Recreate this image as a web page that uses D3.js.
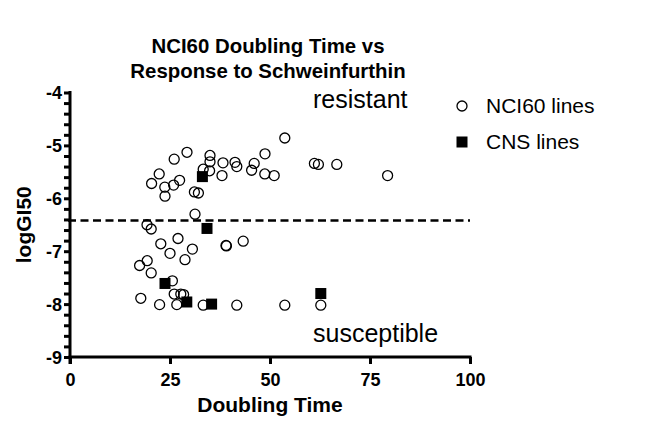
<!DOCTYPE html>
<html>
<head>
<meta charset="utf-8">
<script src="https://cdn.jsdelivr.net/npm/d3@7"></script>
<style>
  body { margin: 0; background: #fff; }
  text { font-family: Arial, "Liberation Sans", sans-serif; }
</style>
</head>
<body>
<div id="chart"></div>
<script>
// NCI60 lines: doubling time / logGI50
const nciX = [20.4, 22.3, 23.7, 23.75, 25.9, 26.05, 27.4, 29.25, 31.1, 32.1, 31.25, 33.3, 35, 35, 34.9,
  38.25, 38, 41.25, 41.7, 45.4, 46.05, 48.75, 48.7, 51.05, 53.7, 61.1, 62.1, 66.7, 79.4,
  19.25, 20.3, 22.7, 27, 25, 30.6, 28.75, 39, 39.1, 43.3, 19.3, 17.4, 20.3, 25.6, 26.05, 27.7,
  28.4, 17.7, 22.4, 26.7, 33.3, 41.7, 53.7, 62.7];
const nciY = [-5.72, -5.54, -5.79, -5.96, -5.75, -5.26, -5.66, -5.13, -5.88, -5.9, -6.3, -5.45, -5.19, -5.31, -5.48,
  -5.33, -5.57, -5.32, -5.4, -5.47, -5.34, -5.16, -5.54, -5.57, -4.86, -5.34, -5.36, -5.36, -5.57,
  -6.5, -6.58, -6.86, -6.76, -7.04, -6.96, -7.16, -6.89, -6.9, -6.81, -7.18, -7.27, -7.41, -7.56, -7.81, -7.81,
  -7.82, -7.89, -8.01, -8.01, -8.02, -8.02, -8.02, -8.02];

// CNS lines
const cnsX = [33.1, 34.25, 23.75, 29.2, 35.4, 62.7];
const cnsY = [-5.59, -6.57, -7.61, -7.96, -8.0, -7.8];

const cutoff = -6.42;
const xTicks = [0, 25, 50, 75, 100];
const yTicks = [-4, -5, -6, -7, -8, -9];

const width = 660, height = 424;
const svg = d3.select("#chart").append("svg")
  .attr("width", width)
  .attr("height", height);

const x = d3.scaleLinear().domain([0, 100]).range([70, 470]);
const y = d3.scaleLinear().domain([-9, -4]).range([357, 92.5]);

// title
svg.append("text")
  .attr("x", 268).attr("y", 53)
  .attr("text-anchor", "middle")
  .style("font-size", "20.4px").style("font-weight", "bold")
  .text("NCI60 Doubling Time vs");
svg.append("text")
  .attr("x", 268).attr("y", 78)
  .attr("text-anchor", "middle")
  .style("font-size", "20.4px").style("font-weight", "bold")
  .text("Response to Schweinfurthin");

// cutoff line
svg.append("line")
  .attr("x1", x(0) - 2).attr("x2", x(100))
  .attr("y1", y(cutoff)).attr("y2", y(cutoff))
  .attr("stroke", "#000")
  .attr("stroke-width", 2.5)
  .attr("stroke-dasharray", "8,4.5");

// axes
const yAxis = d3.axisLeft(y)
  .tickValues(d3.range(-9, -3.99, 0.2))
  .tickSize(6)
  .tickFormat(d => yTicks.some(t => Math.abs(t - d) < 1e-6) ? String(Math.round(d)) : "");
const gy = svg.append("g").attr("transform", `translate(${x(0)},0)`).call(yAxis);

const xAxis = d3.axisBottom(x).tickValues(xTicks).tickSize(7).tickFormat(d => String(d));
const gx = svg.append("g").attr("transform", `translate(0,${y(-9)})`).call(xAxis);

[gx, gy].forEach(g => {
  g.select(".domain").remove();
  g.selectAll(".tick line").attr("stroke-width", 3);
  g.selectAll("text")
    .style("font-family", "Arial, 'Liberation Sans', sans-serif")
    .style("font-size", "18px").style("font-weight", "bold").attr("fill", "#000");
});
gy.selectAll(".tick text").attr("x", -8).attr("dy", "0.36em");
gx.selectAll(".tick text").attr("y", 16);
svg.append("line")
  .attr("x1", x(0)).attr("x2", x(0))
  .attr("y1", y(-4) - 1.5).attr("y2", y(-9) + 7)
  .attr("stroke", "#000").attr("stroke-width", 3);
svg.append("line")
  .attr("x1", x(0) - 1.5).attr("x2", x(100) + 1.5)
  .attr("y1", y(-9)).attr("y2", y(-9))
  .attr("stroke", "#000").attr("stroke-width", 3);

// axis titles
svg.append("text")
  .attr("x", 270).attr("y", 412)
  .attr("text-anchor", "middle")
  .style("font-size", "21px").style("font-weight", "bold")
  .text("Doubling Time");
svg.append("text")
  .attr("transform", `translate(31,${y(-6.5)}) rotate(-90)`)
  .attr("text-anchor", "middle")
  .style("font-size", "21px").style("font-weight", "bold")
  .text("logGI50");

// annotations
svg.append("text")
  .attr("x", 313).attr("y", 108)
  .style("font-size", "25px")
  .text("resistant");
svg.append("text")
  .attr("x", 313).attr("y", 342)
  .style("font-size", "25px")
  .text("susceptible");

// data
const nci = nciX.map((d, i) => ({ x: d, y: nciY[i] }));
const cns = cnsX.map((d, i) => ({ x: d, y: cnsY[i] }));

svg.append("g").selectAll("circle")
  .data(nci).join("circle")
  .attr("cx", d => x(d.x)).attr("cy", d => y(d.y))
  .attr("r", 5)
  .attr("fill", "none")
  .attr("stroke", "#000")
  .attr("stroke-width", 1.3);

const sq = 11;
svg.append("g").selectAll("rect")
  .data(cns).join("rect")
  .attr("x", d => x(d.x) - sq / 2).attr("y", d => y(d.y) - sq / 2)
  .attr("width", sq).attr("height", sq)
  .attr("fill", "#000");

// legend
svg.append("circle")
  .attr("cx", 462).attr("cy", 106).attr("r", 5)
  .attr("fill", "none").attr("stroke", "#000").attr("stroke-width", 1.3);
svg.append("text")
  .attr("x", 486).attr("y", 113)
  .style("font-size", "21px")
  .text("NCI60 lines");
svg.append("rect")
  .attr("x", 462 - sq / 2).attr("y", 142 - sq / 2)
  .attr("width", sq).attr("height", sq).attr("fill", "#000");
svg.append("text")
  .attr("x", 486).attr("y", 149)
  .style("font-size", "21px")
  .text("CNS lines");
</script>
</body>
</html>
